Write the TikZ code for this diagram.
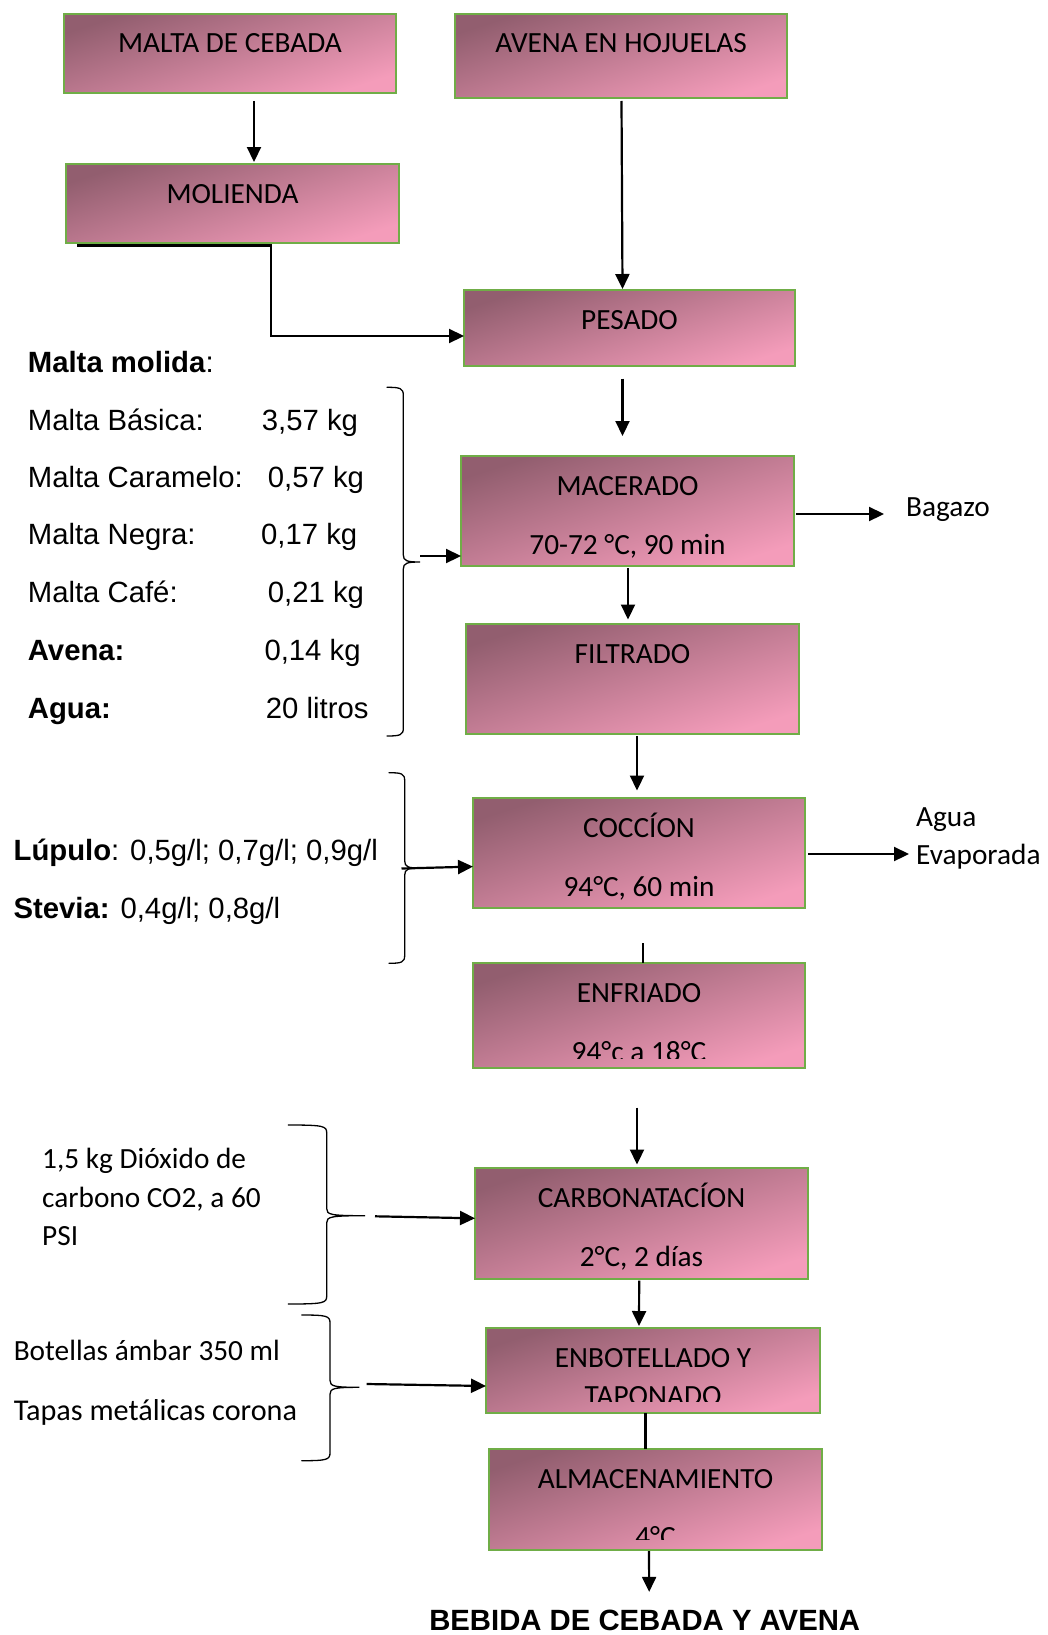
\documentclass[tikz,border=0pt]{standalone}
\usepackage{fontspec}
\setmainfont{Carlito}
\newfontfamily\arialf{Liberation Sans}
\usetikzlibrary{arrows.meta,calc}
\definecolor{boxgreen}{RGB}{112,173,71}
\definecolor{gdark}{RGB}{146,94,111}
\definecolor{glight}{RGB}{244,156,186}
\newcommand\mybrace[6]{%
 \draw[bracesty] (#1,#3) .. controls ({#2-3},#3) and (#2,{#3+1}) .. (#2,{#3+8})
   -- (#2,{#4-7}) .. controls (#2,{#4-1}) and ({#2+4},#4) .. (#5,#4)
   .. controls ({#2+4},#4) and (#2,{#4+1}) .. (#2,{#4+7})
   -- (#2,{#6-8}) .. controls (#2,{#6-1}) and ({#2-3},#6) .. (#1,#6);}
\begin{document}
\begin{tikzpicture}[x=1pt,y=-1pt,
  font=\fontsize{29.3}{35}\selectfont,
  procbox/.style={draw=boxgreen, line width=2.5pt, top color=gdark, bottom color=glight,
    shading angle=18, anchor=north west, inner sep=0pt, outer sep=0pt},
  txt/.style={inner sep=0pt, anchor=base},
  lt/.style={inner sep=0pt, anchor=base west},
  lta/.style={inner sep=0pt, anchor=base west, font=\fontsize{29.3}{35}\selectfont\arialf},
  conn/.style={line width=2.2pt},
  arr/.style={line width=2.2pt, -{Triangle[length=15pt,width=14pt]}},
  bracesty/.style={line width=1.3pt, line cap=round}]
\fill[white] (0,0) rectangle (1047,1635);
\useasboundingbox (0,0) rectangle (1047,1635);

% ---------- process boxes ----------
\node[procbox, minimum width=332pt, minimum height=79pt] (malta) at (64,14) {};
\node[procbox, minimum width=332pt, minimum height=84pt] (avena) at (455,14) {};
\node[procbox, minimum width=333pt, minimum height=79pt] (molienda) at (66,164) {};
\node[procbox, minimum width=331pt, minimum height=76pt] (pesado) at (464,290) {};
\node[procbox, minimum width=333pt, minimum height=110pt] (macerado) at (461,456) {};
\node[procbox, minimum width=333pt, minimum height=110pt] (filtrado) at (466,624) {};
\node[procbox, minimum width=332pt, minimum height=110pt] (coccion) at (473,798) {};
\node[procbox, minimum width=332pt, minimum height=105pt] (enfriado) at (473,963) {};
\node[procbox, minimum width=333pt, minimum height=111pt] (carb) at (475,1168) {};
\node[procbox, minimum width=334pt, minimum height=85pt] (enbot) at (486,1328) {};
\node[procbox, minimum width=333pt, minimum height=101pt] (almac) at (489,1449) {};

% ---------- box texts ----------
\node[txt] (maltaT) at ($(malta.north)+(0,39)$) {MALTA DE CEBADA};
\node[txt] (avenaT) at ($(avena.north)+(0,39)$) {AVENA EN HOJUELAS};
\node[txt] (moliendaT) at ($(molienda.north)+(0,39)$) {MOLIENDA};
\node[txt] (pesadoT) at ($(pesado.north)+(0,39)$) {PESADO};
\node[txt] (maceradoT) at ($(macerado.north)+(0,39)$) {MACERADO};
\node[txt] (maceradoB) at ($(macerado.north)+(0,98)$) {70-72 °C, 90 min};
\node[txt] (filtradoT) at ($(filtrado.north)+(0,39)$) {FILTRADO};
\node[txt] (coccionT) at ($(coccion.north)+(0,39)$) {COCCÍON};
\node[txt] (coccionB) at ($(coccion.north)+(0,98)$) {94°C, 60 min};
\node[txt] (enfriadoT) at ($(enfriado.north)+(0,39)$) {ENFRIADO};
\begin{scope}
  \clip (enfriado.north west) rectangle ($(enfriado.south east)+(0,-10)$);
  \node[txt] (enfriadoB) at ($(enfriado.north)+(0,98)$) {94°c a 18°C};
\end{scope}
\node[txt] (carbT) at ($(carb.north)+(0,39)$) {CARBONATACÍON};
\node[txt] (carbB) at ($(carb.north)+(0,98)$) {2°C, 2 días};
\node[txt] (enbotT) at ($(enbot.north)+(0,39)$) {ENBOTELLADO Y};
\begin{scope}
  \clip (enbot.north west) rectangle ($(enbot.south east)+(0,-11.5)$);
  \node[txt] (enbotB) at ($(enbot.north)+(0,77.5)$) {TAPONADO};
\end{scope}
\node[txt] (almacT) at ($(almac.north)+(0,39)$) {ALMACENAMIENTO};
\begin{scope}
  \clip (almac.north west) rectangle ($(almac.south east)+(0,-11)$);
  \node[txt] (almacB) at ($(almac.north)+(0,97)$) {4°C};
\end{scope}

\node[inner sep=0pt, anchor=base, font=\fontsize{29.3}{35}\selectfont\arialf\bfseries] (bebida) at (644.7,1630.5) {BEBIDA DE CEBADA Y AVENA};

% ---------- side outputs ----------
\node[lt] (bagazo) at (906,516.7) {Bagazo};
\node[lt] (agua) at (916,826.7) {Agua};
\node[lt] (evap) at (916,864) {Evaporada};

% ---------- left inputs ----------
\node[lta] (mm) at (27.7,372.3) {\textbf{Malta molida}:};
\node[lta] (l1) at (27.7,430) {Malta Básica:};
\node[lta] (v1) at (261.7,430) {3,57 kg};
\node[lta] (l2) at (27.7,487.3) {Malta Caramelo:};
\node[lta] (v2) at (267.7,487.3) {0,57 kg};
\node[lta] (l3) at (27.7,544) {Malta Negra:};
\node[lta] (v3) at (261,544) {0,17 kg};
\node[lta] (l4) at (27.7,602.3) {Malta Café:};
\node[lta] (v4) at (267.7,602.3) {0,21 kg};
\node[lta] (l5) at (27.7,660.7) {\textbf{Avena:}};
\node[lta] (v5) at (264.3,660.7) {0,14 kg};
\node[lta] (l6) at (27.7,718.3) {\textbf{Agua:}};
\node[lta] (v6) at (265.7,718.3) {20 litros};

\node[lta] (lup) at (13.4,860) {\textbf{Lúpulo}: 0,5g/l; 0,7g/l; 0,9g/l};
\node[lta] (ste) at (13.4,918.3) {\textbf{Stevia:} 0,4g/l; 0,8g/l};

\node[lt] (co1) at (42,1168.3) {1,5 kg Dióxido de};
\node[lt] (co2) at (42,1207.3) {carbono CO2, a 60};
\node[lt] (co3) at (42,1245) {PSI};
\node[lt] (bo1) at (13.6,1360) {Botellas ámbar 350 ml};
\node[lt, font=\fontsize{30.2}{35}\selectfont] (bo2) at (13.6,1420) {Tapas metálicas corona};

% ---------- braces ----------
\mybrace{387}{403.3}{387.3}{562}{420}{736}
\mybrace{389}{404.7}{772.7}{868}{419}{963.3}
\mybrace{288.3}{326.7}{1125}{1215.7}{365}{1304}
\mybrace{301.7}{330}{1315}{1387.3}{359.3}{1460.7}
\coordinate (b1tip) at (420,556);
\coordinate (b2tip) at (401.5,868.5);
\coordinate (b3tip) at (375,1216.3);
\coordinate (b4tip) at (366.7,1384);

% ---------- connectors ----------
\draw[arr] ($(malta.south)+(24,8)$) -- ($(molienda.north)+(21.5,-2)$);
\coordinate (bend1) at (271,336);
\draw[line width=3pt] ($(molienda.south west)+(11,2.5)$) -- ($(molienda.south west)+(206,2.5)$);
\draw[arr] ($(molienda.south west)+(205,2.5)$) -- (bend1) -- (bend1 -| pesado.west);
\draw[arr] ($(avena.south)+(0.5,3)$) -- ($(pesado.north)+(-7,-1)$);
\draw[arr] ($(pesado.south)+(-7,12.5)$) -- ($(macerado.north)+(-5,-20)$);
\draw[arr] ($(macerado.south)+(0.5,2)$) -- ($(filtrado.north)+(-4.5,-4.5)$);
\draw[arr] ($(filtrado.south)+(4.5,2)$) -- ($(coccion.north)+(-2,-7.5)$);
\draw[conn] ($(enfriado.north)+(4.3,-20)$) -- ($(enfriado.north)+(4.3,0)$);
\draw[arr] ($(enfriado.south)+(-2,39.5)$) -- ($(carb.north)+(-4.5,-3.5)$);
\draw[arr] ($(carb.south)+(-2.3,1.5)$) -- ($(enbot.north)+(-14,-2)$);
\draw[conn] ($(enbot.south)+(-7.5,0)$) -- ($(almac.north)+(-10,0)$);
\draw[arr] ($(almac.south)+(-6.5,1)$) -- ($(bebida.north)+(4.5,-18)$);

\draw[arr] ($(macerado.east)+(2,3)$) -- ($(bagazo.base west)+(-22,-2.7)$);
\draw[arr] ($(coccion.east)+(3,1)$) -- ($(evap.base west)+(-7,-10)$);

\draw[arr] (b1tip) -- (b1tip -| macerado.west);
\draw[arr] (b2tip) -- ($(coccion.west)+(0,13.6)$);
\draw[arr] (b3tip) -- ($(carb.west)+(0,-5.2)$);
\draw[arr] (b4tip) -- ($(enbot.west)+(0,15.5)$);
\end{tikzpicture}
\end{document}
